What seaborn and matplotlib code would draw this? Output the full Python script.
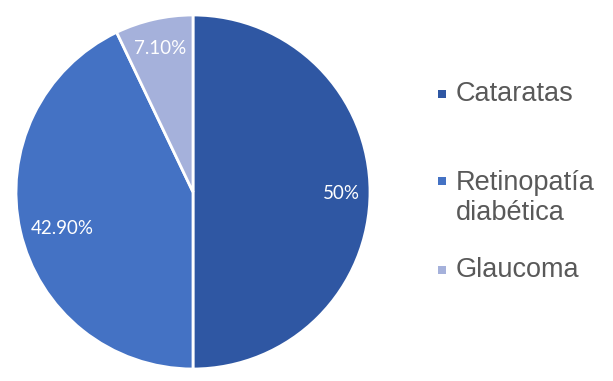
import numpy as np
import matplotlib
matplotlib.use("Agg")
import matplotlib.pyplot as plt
import seaborn as sns

categories = ["Cataratas", "Retinopatía diabética", "Glaucoma"]
legend_labels = ["Cataratas", "Retinopatía\ndiabética", "Glaucoma"]
values = [50.0, 42.9, 7.1]
pct_labels = ["50%", "42.90%", "7.10%"]

sns.set_theme(style="white")
plt.rcParams['font.family'] = ['Liberation Sans', 'DejaVu Sans']

colors = ["#2F57A3", "#4472C4", "#A5B1DB"]

W, H = 613, 381
fig = plt.figure(figsize=(W / 100, H / 100), dpi=100)
cx, cy, r = 193, 192, 177
ax = fig.add_axes([(cx - r) / W, (H - cy - r) / H, 2 * r / W, 2 * r / H])

wedges, _ = ax.pie(values, colors=colors, startangle=90, counterclock=False,
                   wedgeprops=dict(edgecolor="white", linewidth=2), radius=1)
ax.set_xlim(-1.0, 1.0)
ax.set_ylim(-1.0, 1.0)
ax.set_aspect("equal")
ax.axis("off")

label_dist = [0.84, 0.76, 0.83]
label_shift = [-0.01, -0.04, 0.0]
for w, t, d, s in zip(wedges, pct_labels, label_dist, label_shift):
    ang = np.deg2rad((w.theta1 + w.theta2) / 2)
    ax.text(d * np.cos(ang), d * np.sin(ang) + s, t, ha="center", va="center",
            color="white", fontsize=13.5, family=["Lato", "DejaVu Sans"])

# legend
marker_y = [94, 181, 270]
text_y = [94, 198, 270]
for lab, col, my, ty in zip(legend_labels, colors, marker_y, text_y):
    fig.patches.append(plt.Rectangle((438 / W, (H - my - 4) / H), 8 / W, 8 / H,
                                     transform=fig.transFigure, facecolor=col,
                                     edgecolor="none"))
    fig.text(456 / W, (H - ty) / H, lab, ha="left", va="center", fontsize=19.5,
             color="#595959", linespacing=1.25)

fig.savefig("out.png", dpi=100)
